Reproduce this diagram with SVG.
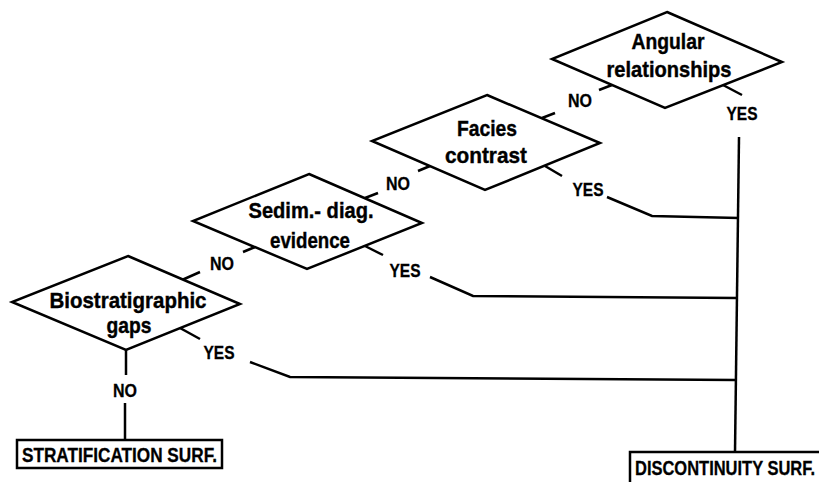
<svg xmlns="http://www.w3.org/2000/svg" width="819" height="482" viewBox="0 0 819 482">
<style>
.shape{fill:#fff;stroke:#000;stroke-width:2.5;stroke-linejoin:miter}
.line{fill:none;stroke:#000;stroke-width:2.5;stroke-linecap:butt;stroke-linejoin:miter}
.t{font-family:"Liberation Sans",Arial,sans-serif;font-weight:bold;font-size:22px;fill:#000;stroke:#000;stroke-width:0.4;text-anchor:middle}
.lbl{font-family:"Liberation Sans",Arial,sans-serif;font-weight:bold;font-size:19px;fill:#000;stroke:#000;stroke-width:0.3;text-anchor:middle}
.box{font-family:"Liberation Sans",Arial,sans-serif;font-weight:bold;font-size:20px;fill:#000;stroke:#000;stroke-width:0.3}
</style>
<rect width="819" height="482" fill="#fff"/>
<g id="connectors">
  <polyline class="line" points="739,137 735,452"/>
  <polyline class="line" points="607,197 652,216 739,218"/>
  <polyline class="line" points="430,277 473,296 737,298"/>
  <polyline class="line" points="250,362 290,377 736,380"/>
  <line class="line" x1="126" y1="350" x2="126" y2="375"/>
  <line class="line" x1="125" y1="403" x2="125" y2="440"/>
  <line class="line" x1="612" y1="85" x2="599" y2="90"/>
  <line class="line" x1="542" y1="118" x2="555" y2="113"/>
  <line class="line" x1="723" y1="85" x2="742" y2="95"/>
  <line class="line" x1="430" y1="166" x2="418" y2="171"/>
  <line class="line" x1="365" y1="198" x2="378" y2="193"/>
  <line class="line" x1="545" y1="166" x2="562" y2="176"/>
  <line class="line" x1="255" y1="247" x2="243" y2="252"/>
  <line class="line" x1="182" y1="280" x2="200" y2="272"/>
  <line class="line" x1="365" y1="246" x2="383" y2="255"/>
  <line class="line" x1="180" y1="328" x2="200" y2="339"/>
  <text class="lbl" x="580" y="107" textLength="24" lengthAdjust="spacingAndGlyphs">NO</text>
  <text class="lbl" x="742" y="120" textLength="31" lengthAdjust="spacingAndGlyphs">YES</text>
  <text class="lbl" x="398" y="190" textLength="24" lengthAdjust="spacingAndGlyphs">NO</text>
  <text class="lbl" x="588" y="196" textLength="31" lengthAdjust="spacingAndGlyphs">YES</text>
  <text class="lbl" x="222" y="270" textLength="24" lengthAdjust="spacingAndGlyphs">NO</text>
  <text class="lbl" x="405" y="277" textLength="31" lengthAdjust="spacingAndGlyphs">YES</text>
  <text class="lbl" x="219" y="359" textLength="31" lengthAdjust="spacingAndGlyphs">YES</text>
  <text class="lbl" x="125" y="397" textLength="24" lengthAdjust="spacingAndGlyphs">NO</text>
</g>
<g id="angular">
  <polygon class="shape" points="667,12 782,62 665,108 552,59"/>
  <text class="t" x="668" y="49" textLength="73" lengthAdjust="spacingAndGlyphs">Angular</text>
  <text class="t" x="669" y="77" textLength="125" lengthAdjust="spacingAndGlyphs">relationships</text>
</g>
<g id="facies">
  <polygon class="shape" points="487,95 600,143 485,190 372,141"/>
  <text class="t" x="487" y="136" textLength="60" lengthAdjust="spacingAndGlyphs">Facies</text>
  <text class="t" x="486" y="163" textLength="82" lengthAdjust="spacingAndGlyphs">contrast</text>
</g>
<g id="sedim">
  <polygon class="shape" points="309,174 422,223 307,269 193,221"/>
  <text class="t" x="311" y="218" textLength="125" lengthAdjust="spacingAndGlyphs">Sedim.- diag.</text>
  <text class="t" x="310" y="248" textLength="80" lengthAdjust="spacingAndGlyphs">evidence</text>
</g>
<g id="biostrat">
  <polygon class="shape" points="128,256 240,304 126,350 12,302"/>
  <text class="t" x="128" y="308" textLength="157" lengthAdjust="spacingAndGlyphs">Biostratigraphic</text>
  <text class="t" x="129" y="333" textLength="45" lengthAdjust="spacingAndGlyphs">gaps</text>
</g>
<g id="stratification">
  <rect class="shape" x="17" y="440" width="205" height="28"/>
  <text class="box" x="22" y="462" textLength="195" lengthAdjust="spacingAndGlyphs">STRATIFICATION SURF.</text>
</g>
<g id="discontinuity">
  <rect class="shape" x="630" y="452" width="200" height="40"/>
  <text class="box" x="635" y="475" textLength="180" lengthAdjust="spacingAndGlyphs">DISCONTINUITY SURF.</text>
</g>
</svg>
